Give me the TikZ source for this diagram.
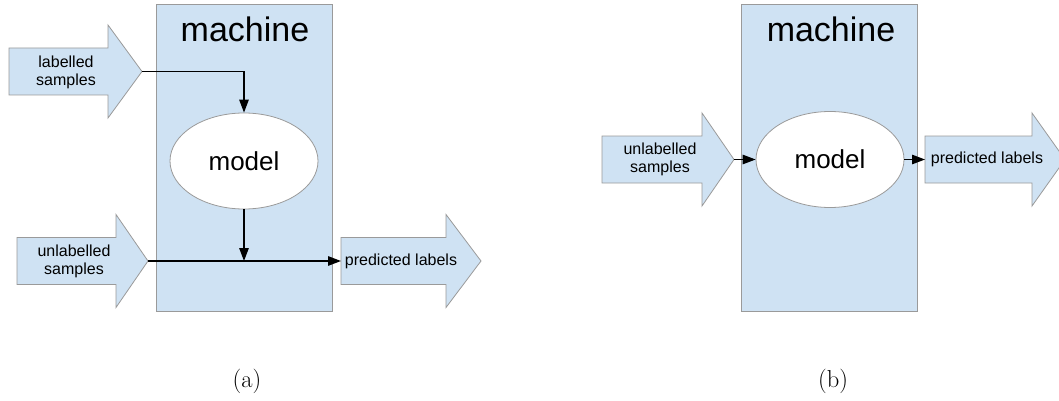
\documentclass[tikz,border=0pt]{standalone}
\usepackage{fontspec}
\newfontfamily\diagfont{Liberation Sans}
\usetikzlibrary{arrows.meta,shapes.geometric}

\definecolor{boxblue}{HTML}{CFE2F3}
\definecolor{edgegray}{HTML}{9A9A9A}

\tikzset{
  machinebox/.style={draw=edgegray,fill=boxblue,line width=0.9pt,minimum width=176pt,minimum height=307pt,inner sep=0pt},
  modelnode/.style={ellipse,draw=edgegray,fill=white,line width=0.8pt,minimum width=148pt,minimum height=96pt,inner sep=0pt,font=\diagfont\fontsize{26}{30}\selectfont},
  titletext/.style={anchor=base,inner sep=0pt,font=\diagfont\fontsize{34}{38}\selectfont},
  smalltext/.style={align=center,inner sep=0pt,font=\diagfont\fontsize{16}{18}\selectfont},
  fatarrow/.style={draw=edgegray,fill=boxblue,line width=0.8pt,line join=miter},
  flow/.style={draw=black,line width=1.3pt,-{Triangle[length=13pt,width=9.5pt]}},
  captext/.style={anchor=base,inner sep=0pt,font=\fontsize{24.5}{28}\selectfont}
}

% big block arrow: name, tail x, neck x, tip x, centre y
\newcommand{\fatarrow}[5]{%
  \draw[fatarrow] (#2,#5-23.5) -- (#3,#5-23.5) -- (#3,#5-46.5) -- (#4,#5)
    -- (#3,#5+46.5) -- (#3,#5+23.5) -- (#2,#5+23.5) -- cycle;
  \coordinate (#1-tail) at (#2,#5);
  \coordinate (#1-tip) at (#4,#5);
}

\begin{document}
\begin{tikzpicture}[x=1pt,y=-1pt]
  \useasboundingbox (0,0) rectangle (1059,401);

  % (a) training, then labelling
  \node[machinebox] (machA) at (244,157.5) {};
  \node[titletext] (machAtitle) at (245,42) {machine};
  \node[modelnode] (modelA) at (244,161) {model};

  \fatarrow{labA}{9}{108}{142}{71.5}
  \fatarrow{unlA}{17}{116}{148}{261}
  \fatarrow{predA}{341}{446}{481}{261}
  \node[smalltext] (labAtext) at (66,72) {labelled\\samples};
  \node[smalltext] (unlAtext) at (74,261) {unlabelled\\samples};
  \node[smalltext] (predAtext) at (401,261) {predicted labels};

  \draw[flow] (labA-tip) -| (modelA);
  \draw[flow] (modelA) -- (modelA |- unlA-tip);
  \draw[flow] (unlA-tip) -- (predA-tail);

  % (b) labelling only
  \node[machinebox] (machB) at (829.5,157.5) {};
  \node[titletext] (machBtitle) at (831,42) {machine};
  \node[modelnode] (modelB) at (830,159.5) {model};

  \fatarrow{unlB}{602}{702}{734}{159.5}
  \fatarrow{predB}{925}{1032}{1065}{159.5}
  \node[smalltext] (unlBtext) at (660,159.5) {unlabelled\\samples};
  \node[smalltext] (predBtext) at (987,159.5) {predicted labels};

  \draw[flow] (unlB-tip) -- (modelB);
  \draw[flow] (modelB) -- (predB-tail);

  % captions
  \node[captext] (capA) at (247,387) {(a)};
  \node[captext] (capB) at (833,387) {(b)};
\end{tikzpicture}
\end{document}
